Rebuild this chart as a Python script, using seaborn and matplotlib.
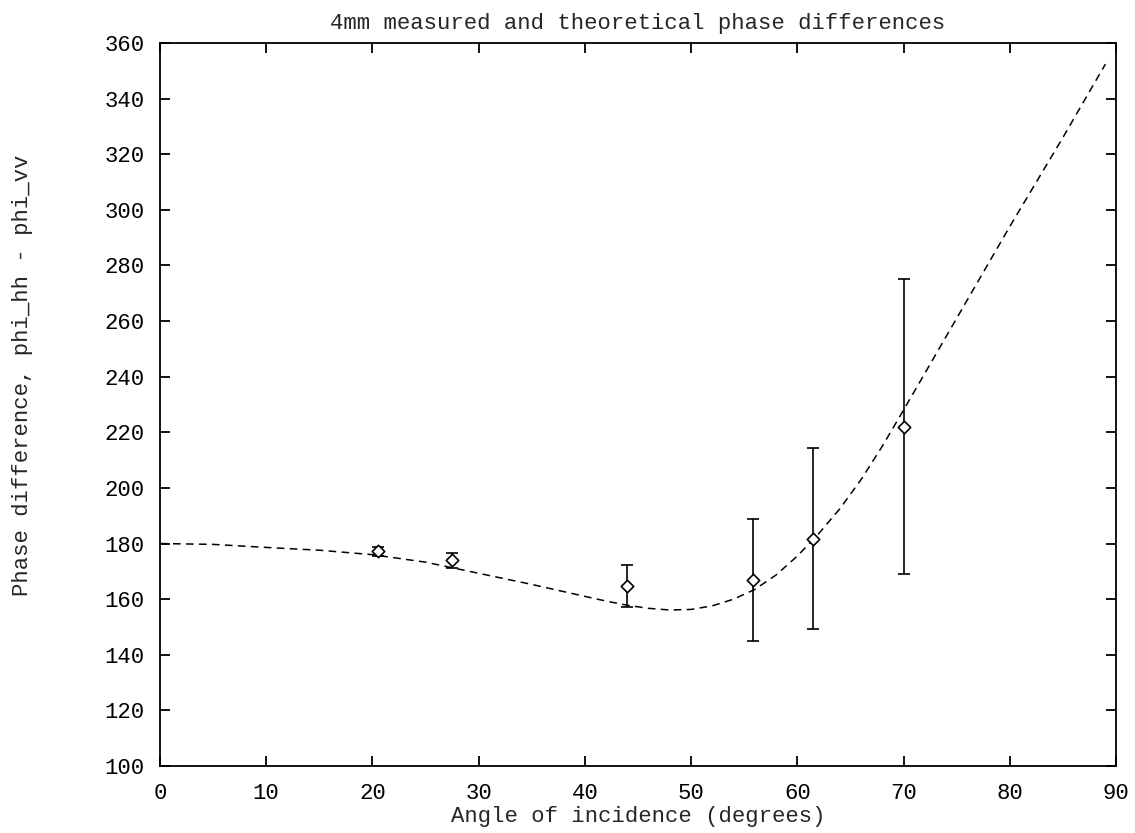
import numpy as np
import pandas as pd
import matplotlib
matplotlib.use("Agg")
import matplotlib.pyplot as plt
import seaborn as sns

# Measured phase differences (degrees)
angle_meas = [20.5, 27.5, 44.0, 55.8, 61.5, 70.0]
phase_meas = [177.2, 174.0, 164.7, 166.9, 181.8, 222.0]
phase_err = [1.7, 2.7, 7.7, 22.0, 32.7, 53.0]

# Theoretical curve
angle_theory = [0, 5, 10, 15, 20, 25, 30, 35, 40, 42, 44, 46, 48, 50, 52, 54, 56, 58, 60,
                62, 64, 66, 68, 70, 75, 80, 85, 89]
phase_theory = [180.0, 179.7, 178.6, 177.6, 176.0, 173.3, 169.3, 165.3, 161.0, 159.3, 157.8,
                156.7, 156.1, 156.3, 157.6, 160.0, 163.5, 168.7, 175.5, 183.5, 192.5, 203.0,
                215.0, 228.0, 261.0, 294.0, 326.0, 352.4]

xticks = list(range(0, 91, 10))
yticks = list(range(100, 361, 20))

sns.set_style("ticks")
plt.rcParams['font.family'] = ['Liberation Mono', 'DejaVu Sans Mono']
plt.rcParams['axes.linewidth'] = 1.3

FS = 16

fig = plt.figure(figsize=(11.35, 8.33), dpi=100)
ax = fig.add_axes([160/1135, 1 - 766/833, (1116 - 160)/1135, (766 - 43)/833])

theory = pd.DataFrame({"angle": angle_theory, "phase": phase_theory})
sns.lineplot(data=theory, x="angle", y="phase", ax=ax, color="black",
             linewidth=1.1, linestyle=(0, (5, 3.5)), sort=True)

ax.errorbar(angle_meas, phase_meas, yerr=phase_err, fmt="none", ecolor="black",
            elinewidth=1.2, capsize=4.5, capthick=1.2, zorder=3)
meas = pd.DataFrame({"angle": angle_meas, "phase": phase_meas})
sns.scatterplot(data=meas, x="angle", y="phase", ax=ax, marker="D", s=40,
                facecolor="white", edgecolor="black", linewidth=1.2, zorder=4)

ax.set_xlim(0, 90)
ax.set_ylim(100, 360)
ax.set_xticks(xticks)
ax.set_yticks(yticks)
ax.tick_params(direction="in", length=7.5, width=1.3, top=True, right=True,
               labelsize=FS, colors="black")
ax.tick_params(axis="x", pad=12.5)
ax.tick_params(axis="y", pad=11)
for s in ax.spines.values():
    s.set_visible(True)
    s.set_color("black")

ax.set_title("4mm measured and theoretical phase differences", fontsize=FS, pad=10)
ax.set_xlabel("Angle of incidence (degrees)", fontsize=FS, labelpad=1)
ax.set_ylabel("Phase difference, phi_hh - phi_vv", fontsize=FS)
ax.yaxis.set_label_coords(-0.133, 0.541)

fig.savefig("out.png", dpi=100)
